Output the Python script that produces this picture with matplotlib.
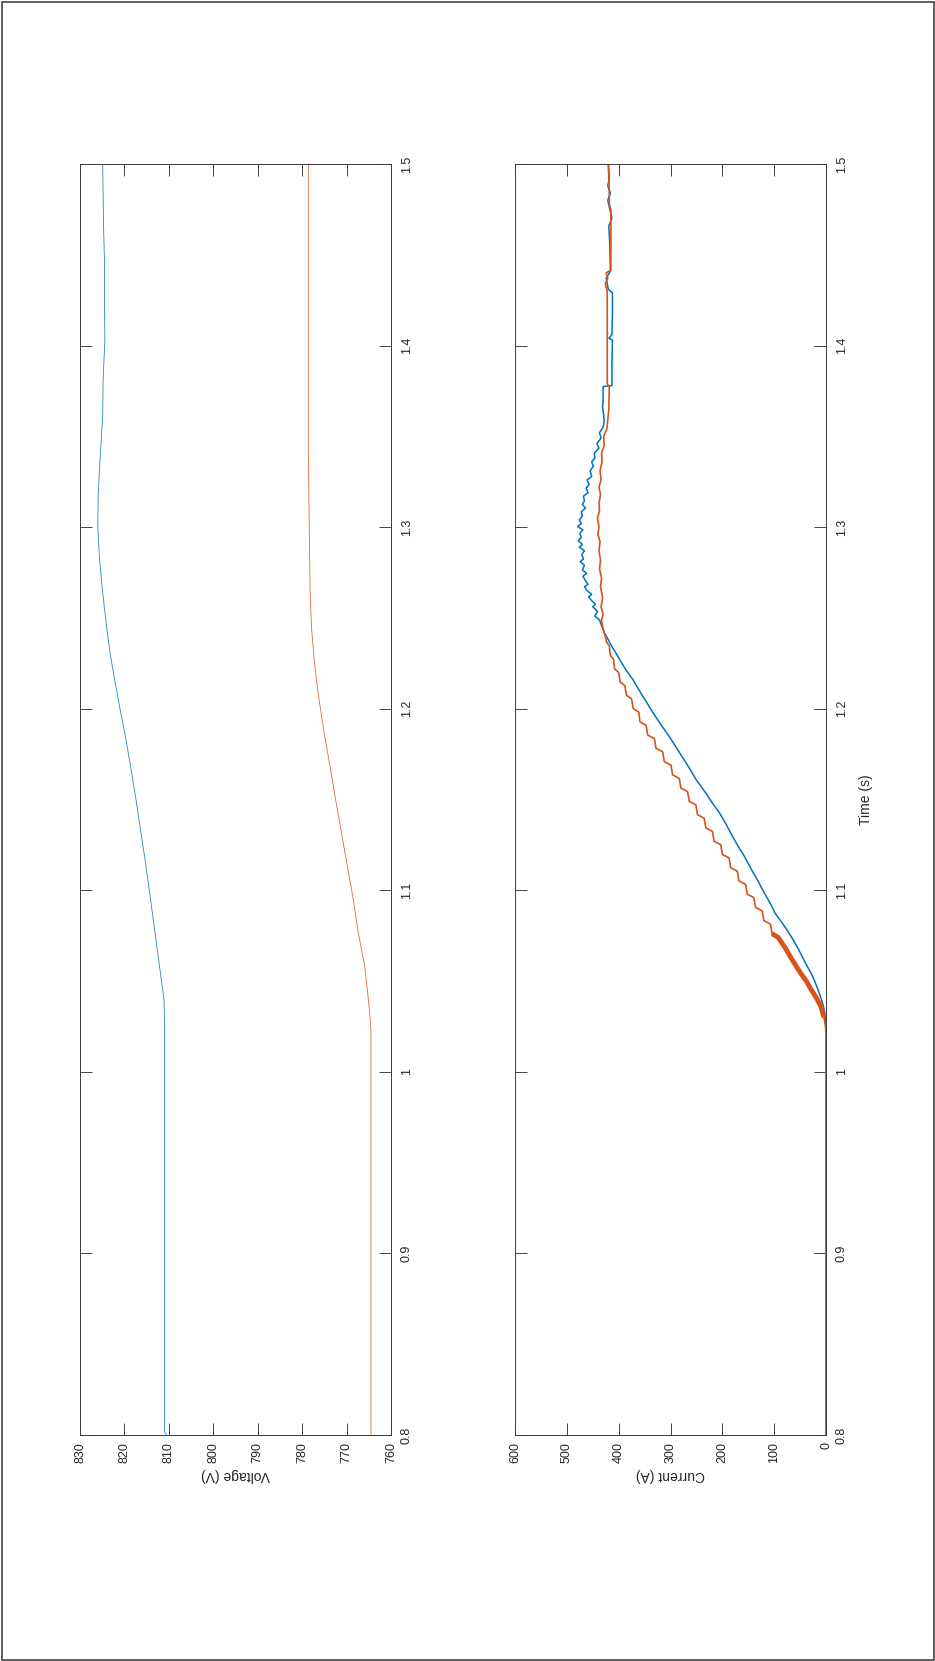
import matplotlib
matplotlib.use("Agg")
import matplotlib.pyplot as plt
from matplotlib.patches import Rectangle

# ---------------- data ----------------
volt_ticks = [760, 770, 780, 790, 800, 810, 820, 830]
volt_tick_labels = ["760", "770", "780", "790", "800", "810", "820", "830"]
curr_ticks = [0, 100, 200, 300, 400, 500, 600]
curr_tick_labels = ["0", "100", "200", "300", "400", "500", "600"]
time_ticks = [0.8, 0.9, 1.0, 1.1, 1.2, 1.3, 1.4, 1.5]
time_tick_labels = ["0.8", "0.9", "1", "1.1", "1.2", "1.3", "1.4", "1.5"]

# Voltage, series 1 (blue)
volt_time_blue = [0.800, 0.802, 1.000, 1.020, 1.030, 1.040, 1.049, 1.058, 1.080, 1.100,
                  1.116, 1.132, 1.150, 1.168, 1.185, 1.200, 1.216, 1.230, 1.245, 1.264,
                  1.282, 1.300, 1.318, 1.337, 1.361, 1.381, 1.403, 1.425, 1.447, 1.466,
                  1.484, 1.500]
volt_blue = [810.6, 811.0, 811.0, 811.0, 811.0, 811.1, 811.6, 812.1, 813.3, 814.4,
             815.3, 816.3, 817.4, 818.6, 819.8, 821.0, 822.2, 823.2, 824.0, 824.9,
             825.6, 826.0, 825.9, 825.5, 824.9, 824.8, 824.4, 824.5, 824.5, 824.7,
             824.8, 824.9]

# Voltage, series 2 (orange)
volt_time_orange = [0.800, 1.000, 1.021, 1.030, 1.040, 1.058, 1.077, 1.095, 1.113, 1.131,
                    1.149, 1.168, 1.186, 1.205, 1.216, 1.230, 1.245, 1.264, 1.300, 1.337,
                    1.400, 1.450, 1.500]
volt_orange = [764.5, 764.5, 764.5, 764.7, 765.1, 765.9, 767.4, 768.5, 769.8, 771.1,
               772.4, 773.7, 775.0, 776.2, 776.8, 777.4, 777.9, 778.2, 778.4, 778.6,
               778.6, 778.6, 778.6]

# Current, series 1 (blue)
curr_time_blue = [0.800, 1.020, 1.027, 1.032, 1.036, 1.040, 1.045, 1.050, 1.054, 1.058,
                  1.063, 1.068, 1.0726, 1.078, 1.083, 1.0873, 1.092, 1.0996, 1.105, 1.112,
                  1.118, 1.124, 1.130, 1.136, 1.1424, 1.148, 1.154, 1.1607, 1.166, 1.172,
                  1.1791, 1.185, 1.191, 1.1975, 1.203, 1.209, 1.2158, 1.221, 1.226, 1.230,
                  1.2342, 1.238, 1.242, 1.2489, 1.251, 1.2535, 1.2562, 1.2575, 1.2595, 1.2615,
                  1.263, 1.265, 1.2672, 1.2685, 1.2705, 1.273, 1.2745, 1.2765, 1.279, 1.281,
                  1.2825, 1.285, 1.287, 1.289, 1.2905, 1.2925, 1.2945, 1.2965, 1.2985, 1.3003,
                  1.302, 1.304, 1.306, 1.3085, 1.3105, 1.3125, 1.3145, 1.317, 1.319, 1.3215,
                  1.3235, 1.326, 1.328, 1.331, 1.3335, 1.336, 1.338, 1.3407, 1.3435, 1.346,
                  1.349, 1.352, 1.355, 1.358, 1.362, 1.366, 1.370, 1.3774, 1.378, 1.390,
                  1.403, 1.404, 1.406, 1.418, 1.429, 1.431, 1.437, 1.441, 1.455, 1.466,
                  1.470, 1.475, 1.480, 1.484, 1.488, 1.492, 1.500]
curr_blue = [0, 0, 0.5, 2, 5, 9, 15, 22, 28, 36,
             45, 54, 63, 75, 87, 98, 106, 121, 131, 145,
             156, 169, 181, 192, 205, 219, 233, 250, 261, 274,
             290, 303, 318, 333, 345, 358, 372, 385, 396, 404,
             413, 420, 428, 437, 446, 441, 450, 445, 452, 458,
             452, 461, 466, 459, 464, 469, 462, 470, 466, 474,
             468, 471, 466, 476, 470, 478, 472, 475, 469, 479,
             472, 476, 470, 472, 464, 470, 466, 468, 459, 463,
             457, 461, 452, 455, 449, 452, 446, 447, 438, 442,
             434, 437, 430, 428, 429, 431, 430, 430, 413, 413,
             412, 419, 413, 412, 412, 420, 424, 416, 417, 419,
             413, 417, 421, 416, 421, 418, 420]

# Current, series 2 (orange)
curr_time_orange = [0.800, 1.020, 1.025, 1.030, 1.036, 1.041, 1.045, 1.050, 1.054, 1.058,
                    1.063, 1.068, 1.0726, 1.0740, 1.0760, 1.0813, 1.0833, 1.0886, 1.0906, 1.0959,
                    1.0979, 1.1032, 1.1052, 1.1105, 1.1125, 1.1178, 1.1198, 1.1251, 1.1271, 1.1324,
                    1.1344, 1.1397, 1.1417, 1.1470, 1.1490, 1.1543, 1.1563, 1.1616, 1.1636, 1.1689,
                    1.1709, 1.1762, 1.1782, 1.1835, 1.1855, 1.1908, 1.1928, 1.1981, 1.2001, 1.2054,
                    1.2074, 1.2127, 1.2147, 1.2200, 1.2220, 1.2273, 1.2293, 1.2346, 1.2366, 1.240,
                    1.245, 1.2489, 1.252, 1.2562, 1.261, 1.2672, 1.272, 1.277, 1.2819, 1.287,
                    1.292, 1.296, 1.3003, 1.305, 1.309, 1.3131, 1.318, 1.322, 1.326, 1.331,
                    1.336, 1.3407, 1.345, 1.350, 1.354, 1.359, 1.365, 1.3774, 1.379, 1.395,
                    1.405, 1.430, 1.434, 1.437, 1.440, 1.4416, 1.455, 1.4747, 1.478, 1.4839,
                    1.500]
curr_orange = [0, 0, 1, 4, 10, 19, 28, 38, 48, 57,
               68, 78, 89, 92, 104, 107, 120, 123, 136, 139,
               152, 155, 168, 171, 184, 187, 200, 203, 216, 219,
               232, 235, 248, 251, 264, 267, 280, 283, 296, 299,
               312, 315, 328, 331, 344, 347, 359, 361, 372, 375,
               385, 388, 397, 400, 408, 410, 416, 418, 423, 426,
               431, 433, 430, 434, 431, 435, 433, 437, 435, 438,
               436, 440, 438, 441, 437, 438, 435, 438, 434, 436,
               432, 433, 428, 429, 423, 421, 419, 418, 422, 422,
               422, 422, 426, 421, 424, 415, 415, 415, 418, 418,
               420]

# ---------------- style ----------------
BLUE = "#0072BD"
ORANGE = "#D95319"
AXC = "#262626"
plt.rcParams["font.family"] = ["Liberation Sans", "DejaVu Sans"]

W, H = 935, 1661
fig = plt.figure(figsize=(W / 100, H / 100), dpi=100)
fig.patch.set_facecolor("white")


def rect(x0, y0, x1, y1):
    return [x0 / W, 1 - y1 / H, (x1 - x0) / W, (y1 - y0) / H]


ax1 = fig.add_axes(rect(80, 164, 391, 1435))
ax2 = fig.add_axes(rect(515, 164, 826, 1435))

ax1.plot(volt_blue, volt_time_blue, color=BLUE, lw=0.6, alpha=0.85)
ax1.plot(volt_orange, volt_time_orange, color=ORANGE, lw=0.6, alpha=0.85)

ax2.plot(curr_blue, curr_time_blue, color=BLUE, lw=1.1)
ax2.plot(curr_orange, curr_time_orange, color=ORANGE, lw=1.2)
# thick ripple band of the orange current at the start of the rise
thick = [i for i, t in enumerate(curr_time_orange) if 1.027 <= t <= 1.080]
ax2.plot([curr_orange[i] for i in thick], [curr_time_orange[i] for i in thick],
         color=ORANGE, lw=3.5, solid_capstyle="butt")

for ax, lim, ticks, labels in [(ax1, (830, 760), volt_ticks, volt_tick_labels),
                               (ax2, (600, 0), curr_ticks, curr_tick_labels)]:
    ax.set_xlim(*lim)
    ax.set_ylim(0.8, 1.5)
    ax.set_xticks(ticks)
    ax.set_xticklabels(labels, rotation=90, va="top", ha="center")
    ax.set_yticks(time_ticks)
    ax.yaxis.tick_right()
    ax.set_yticklabels(time_tick_labels, rotation=90, va="center", ha="left")
    ax.tick_params(axis="both", direction="in", length=8.5, width=0.6, color=AXC,
                   labelsize=9, labelcolor=AXC, top=True, bottom=True, left=True, right=True,
                   labelleft=False, labelright=True, labeltop=False, labelbottom=True)
    ax.tick_params(axis="x", pad=5)
    ax.tick_params(axis="y", pad=7)
    for s in ax.spines.values():
        s.set_color("#3a3a3a")
        s.set_linewidth(0.7)

ax1.set_xlabel("Voltage (V)", rotation=180, fontsize=10, color=AXC, labelpad=4)
ax2.set_xlabel("Current (A)", rotation=180, fontsize=10, color=AXC, labelpad=4)
ax2.yaxis.set_label_position("right")
ax2.set_ylabel("Time (s)", rotation=90, fontsize=10, color=AXC, labelpad=8)

fig.patches.append(Rectangle((1.5 / W, 1.5 / H), (W - 3) / W, (H - 3) / H,
                             transform=fig.transFigure, fill=False,
                             edgecolor="#444444", lw=1.2))

fig.savefig("out.png", dpi=100, facecolor="white")
